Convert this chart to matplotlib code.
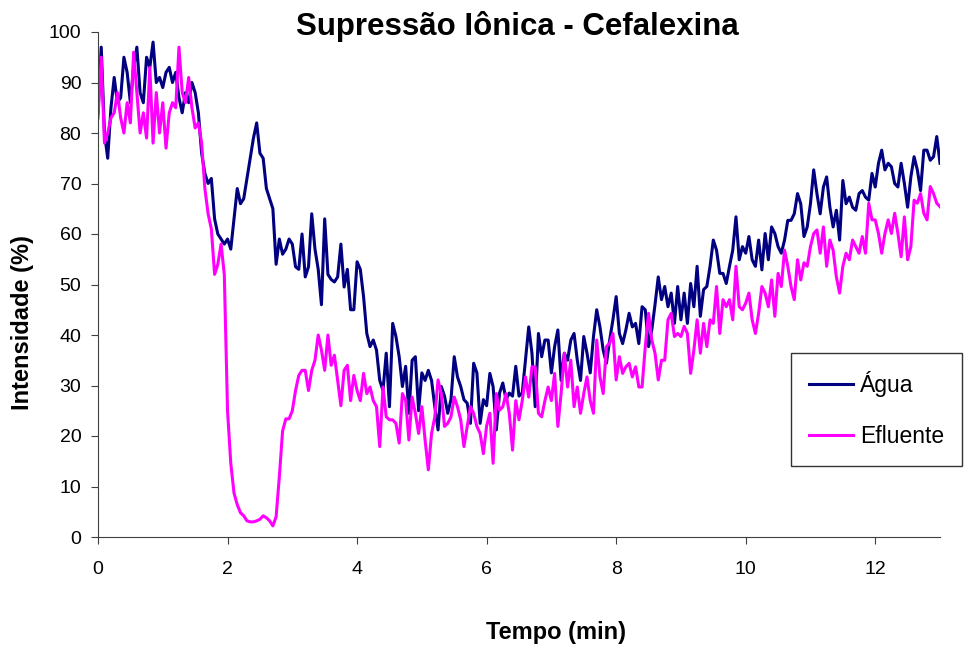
import numpy as np
import matplotlib
matplotlib.use("Agg")
import matplotlib.pyplot as plt

plt.rcParams['font.family'] = ['Liberation Sans', 'DejaVu Sans']

# Intensidade (%), uma linha por minuto (passo de 0.05 min)
agua = [
    84, 97, 80, 75, 85, 91, 86, 87, 95, 92, 86, 93, 97, 88, 86, 95, 93, 98, 90, 91,
    89, 92, 93, 90, 92, 87, 84, 88, 86, 90, 88, 84, 76, 72, 70, 71, 63, 60, 59, 58,
    59, 57, 63, 69, 66, 67, 71, 75, 79, 82, 76, 75, 69, 67, 65, 54, 59, 56, 57, 59,
    58, 53.5, 53, 60, 51.5, 53.5, 64, 57, 53, 46, 63, 52, 51, 50.5, 51.5, 58, 49.5, 53, 45, 45,
    54.5, 53, 47.6, 40.3, 37.7, 39, 37, 31, 29, 36.4, 25.8, 42.3, 39.7, 35.7, 29.8, 33.8, 24.5, 35, 35.7, 25,
    32.5, 31, 33, 31, 25.8, 21.2, 29.8, 27.9, 24.5, 27.2, 35.7, 31.7, 29.8, 27.2, 26.5, 22.5, 34.4, 32.5, 22.5, 27.2,
    26, 32.4, 29.8, 21.2, 28.5, 30.5, 27.2, 28.5, 27.9, 33.8, 27.9, 28.5, 35, 41.6, 36.4, 25.8, 40.3, 35.7, 39, 39,
    32.5, 37.7, 41, 31, 36.4, 35, 39, 40.3, 35, 31, 39.7, 36.4, 32.5, 39.7, 45, 41.6, 37, 34.4, 39, 43,
    47.6, 40.3, 38.3, 41, 44.3, 41.6, 42.3, 38.3, 45.6, 45, 37.7, 41, 46, 51.5, 47, 49.6, 45.6, 48.3, 42.3, 49.6,
    43, 48.3, 42.3, 50.2, 45.6, 53.6, 43.7, 49, 49.6, 53.6, 58.8, 56.8, 52.2, 52.2, 50.2, 53.6, 56.8, 63.4, 54.9, 57.5,
    56.2, 59.5, 54.9, 53.6, 58.8, 52.9, 60.1, 54.9, 61.4, 60.1, 57.5, 56.2, 58.8, 62.7, 62.7, 64, 68, 66, 59.5, 61.4,
    66, 72.7, 68, 64, 69.3, 71.3, 65.3, 61.4, 64.7, 58.8, 70.6, 66, 67.3, 65.3, 64.7, 68, 68.6, 67.3, 66.7, 72,
    69.3, 74, 76.6, 72.7, 74, 73.3, 70, 69.3, 74, 70, 65.3, 71.3, 75.3, 72.7, 68.6, 76.6, 76.6, 74.6, 75.3, 79.3,
    74,
]

efluente = [
    83, 95, 78, 80, 83, 84, 88, 83, 80, 86, 82, 96, 88, 80, 84, 79, 93, 78, 88, 80,
    86, 77, 84, 86, 85, 97, 88, 86, 91, 85, 81, 82, 78, 69, 64, 61, 52, 54, 58, 52,
    25, 14.6, 8.7, 6.4, 4.8, 4.2, 3.2, 3, 3, 3.2, 3.5, 4.2, 3.8, 3.2, 2.2, 4, 12, 21, 23.4, 23.4,
    25, 29, 32, 33, 33, 29, 33, 35, 40, 37, 33, 40, 34, 36, 31, 26, 33, 34, 27, 32,
    29, 27, 32.4, 28.4, 29.7, 27, 25.8, 17.9, 29.7, 23.8, 23.2, 23.2, 22.5, 18.6, 28.4, 27, 19.2, 27.7, 24.5, 20.5,
    25.8, 19.2, 13.3, 20.5, 23.8, 31.1, 28.4, 21.9, 22.5, 23.8, 27.7, 25.8, 23.2, 17.9, 21.9, 25.8, 24.5, 21.9, 20.5, 16.5,
    22, 24.5, 14.6, 28.4, 25.1, 25.8, 28.4, 24.5, 17.2, 27, 23.2, 27, 31.7, 27.7, 33.7, 33.7, 24.5, 23.8, 27, 29.7,
    27, 32.4, 21.9, 28.4, 36.4, 29.7, 35, 25.8, 29.7, 24.5, 28.4, 31.7, 27, 24.5, 39, 31.7, 28.4, 37.7, 38.4, 40.3,
    31.1, 35.7, 32.4, 33.7, 34.4, 31.7, 33.7, 29.7, 29.7, 37.7, 44.3, 39, 36.4, 31.1, 35, 35, 43, 44.3, 39.7, 40.3,
    39.7, 41.7, 40.3, 32.4, 37, 43, 36.4, 42.3, 37.7, 43, 42.3, 49.6, 40.3, 47, 45.6, 47, 43, 53.6, 45.6, 45,
    46.3, 48.3, 43, 40.3, 44.3, 49.6, 48.3, 45.6, 50.9, 43.7, 52.2, 49.6, 56.8, 53.6, 49.6, 47, 54.9, 50.9, 54.3, 53.6,
    57.5, 60.1, 60.8, 56.2, 61.4, 53.6, 58.8, 56.8, 51.5, 48.3, 53.6, 56.2, 54.9, 58.8, 57.5, 56.2, 59.5, 56.2, 66.1, 62.8,
    62.8, 60.1, 56.2, 60.1, 62.8, 60.1, 64.1, 60.1, 55.5, 63.4, 54.9, 57.5, 66.7, 66.1, 68, 64.1, 62.8, 69.4, 68, 66.1,
    65.4,
]

tempo = np.linspace(0, 13, len(agua))

x_ticks = [0, 2, 4, 6, 8, 10, 12]
y_ticks = [0, 10, 20, 30, 40, 50, 60, 70, 80, 90, 100]

fig = plt.figure(figsize=(9.65, 6.48), dpi=100)
ax = fig.add_axes([98 / 965, 1 - 537 / 648, 842 / 965, 505 / 648])

ax.plot(tempo, agua, color='#000080', linewidth=2.2, label='Água')
ax.plot(tempo, efluente, color='#FF00FF', linewidth=2.2, label='Efluente')

ax.set_xlim(0, 13)
ax.set_ylim(0, 100)
ax.set_xticks(x_ticks)
ax.set_yticks(y_ticks)
ax.tick_params(labelsize=14, direction='out', length=5, color='#404040')
ax.tick_params(axis='y', pad=7)
ax.tick_params(axis='x', pad=12)
ax.spines['top'].set_visible(False)
ax.spines['right'].set_visible(False)
ax.spines['left'].set_color('#404040')
ax.spines['bottom'].set_color('#404040')

fig.text(517 / 965, 1 - 26 / 648, 'Supressão Iônica - Cefalexina', ha='center', va='center',
         fontsize=22.5, fontweight='bold')
fig.text(556 / 965, 1 - 632 / 648, 'Tempo (min)', ha='center', va='center',
         fontsize=17, fontweight='bold')
fig.text(23 / 965, 1 - 323 / 648, 'Intensidade (%)', ha='center', va='center', rotation=90,
         fontsize=17, fontweight='bold')

leg = fig.legend(loc='upper left', bbox_to_anchor=(791 / 965, 1 - 353 / 648), fontsize=16.5,
                 frameon=True, fancybox=False, shadow=False, labelspacing=1.2,
                 handlelength=1.9, handletextpad=0.3, borderpad=0.8, borderaxespad=0)
leg.get_frame().set_edgecolor('black')
leg.get_frame().set_linewidth(1.0)

fig.savefig('out.png', dpi=100)
